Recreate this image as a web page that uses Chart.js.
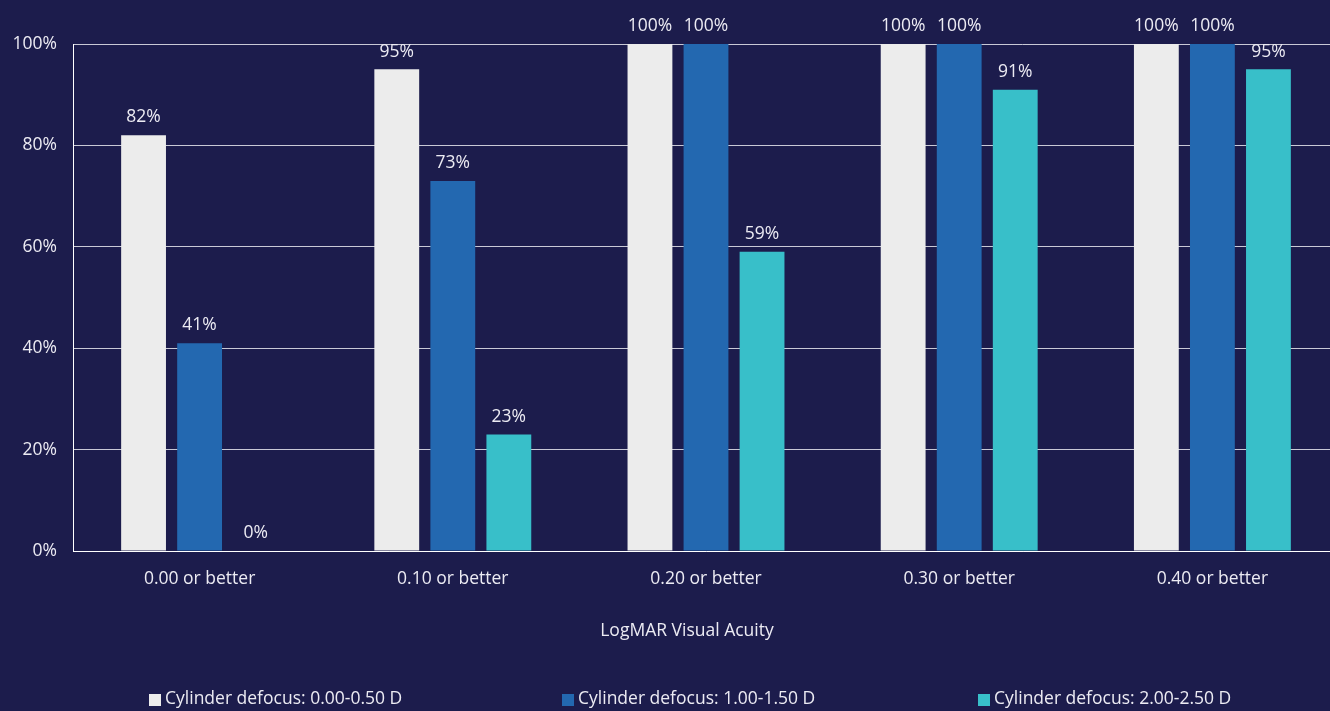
<!DOCTYPE html>
<html>
<head>
<meta charset="utf-8">
<script src="https://cdn.jsdelivr.net/npm/chart.js@4"></script>
<style>
  html, body { margin: 0; padding: 0; background: #1c1c4c; overflow: hidden; }
  #wrap { width: 1339px; height: 711px; }
</style>
</head>
<body>
<div id="wrap"><canvas id="myChart"></canvas></div>
<script>
const categories = ["0.00 or better", "0.10 or better", "0.20 or better", "0.30 or better", "0.40 or better"];
const seriesNames = ["Cylinder defocus: 0.00-0.50 D", "Cylinder defocus: 1.00-1.50 D", "Cylinder defocus: 2.00-2.50 D"];
const lowCyl = [82, 95, 100, 100, 100];
const midCyl = [41, 73, 100, 100, 100];
const highCyl = [0, 23, 59, 91, 95];
const axisTitle = "LogMAR Visual Acuity";
const barColors = ["#ececec", "#2368b0", "#38bfc9"];
const textColor = "#ecebf3";
const fontFamily = "'Open Sans', sans-serif";
const fontSize = 17.5;

// value labels above each bar
const valueLabels = {
    id: 'valueLabels',
    afterDatasetsDraw(chart){
        const ctx = chart.ctx;
        ctx.save();
        ctx.font = fontSize + "px " + fontFamily;
        ctx.fillStyle = textColor;
        ctx.textAlign = "center";
        ctx.textBaseline = "bottom";
        chart.data.datasets.forEach((ds, i) => {
            chart.getDatasetMeta(i).data.forEach((bar, j) => {
                ctx.fillText(ds.data[j] + "%", bar.x, bar.y - 9);
            });
        });
        ctx.restore();
    }
};

// axis title + legend spread across the bottom
const bottomText = {
    id: 'bottomText',
    afterDraw(chart){
        const ctx = chart.ctx;
        const starts = [149, 562, 978];
        ctx.save();
        ctx.font = fontSize + "px " + fontFamily;
        ctx.textBaseline = "middle";
        ctx.fillStyle = textColor;
        ctx.textAlign = "center";
        ctx.fillText(axisTitle, 687, 631);
        ctx.textAlign = "left";
        chart.data.datasets.forEach((ds, i) => {
            ctx.fillStyle = ds.backgroundColor;
            ctx.fillRect(starts[i], 694, 12, 12);
            ctx.fillStyle = textColor;
            ctx.fillText(ds.label, starts[i] + 16, 699);
        });
        ctx.restore();
    }
};

new Chart(document.getElementById('myChart'), {
    type: "bar",
    data: {
        labels: categories,
        datasets: [
            { label: seriesNames[0], data: lowCyl, backgroundColor: barColors[0] },
            { label: seriesNames[1], data: midCyl, backgroundColor: barColors[1] },
            { label: seriesNames[2], data: highCyl, backgroundColor: barColors[2] }
        ]
    },
    options: {
        responsive: true,
        maintainAspectRatio: false,
        animation: false,
        categoryPercentage: 0.664,
        barPercentage: 0.8,
        layout: { padding: { top: 44, right: 0, bottom: 60, left: 0 } },
        plugins: {
            legend: { display: false },
            tooltip: { enabled: false }
        },
        scales: {
            x: {
                grid: { display: false, drawTicks: false },
                border: { color: "#ffffff", width: 1 },
                ticks: { color: textColor, font: { family: fontFamily, size: fontSize }, padding: 18 },
                afterFit(scale){ scale.height = 100; }
            },
            y: {
                min: 0,
                max: 100,
                ticks: {
                    stepSize: 20,
                    color: textColor,
                    font: { family: fontFamily, size: fontSize },
                    padding: 16,
                    callback: v => v + "%"
                },
                grid: { color: "#c9c9d6", lineWidth: 1, drawTicks: false },
                border: { color: "#ffffff", width: 1 },
                afterFit(scale){ scale.width = 73; }
            }
        }
    },
    plugins: [valueLabels, bottomText]
});
</script>
</body>
</html>
